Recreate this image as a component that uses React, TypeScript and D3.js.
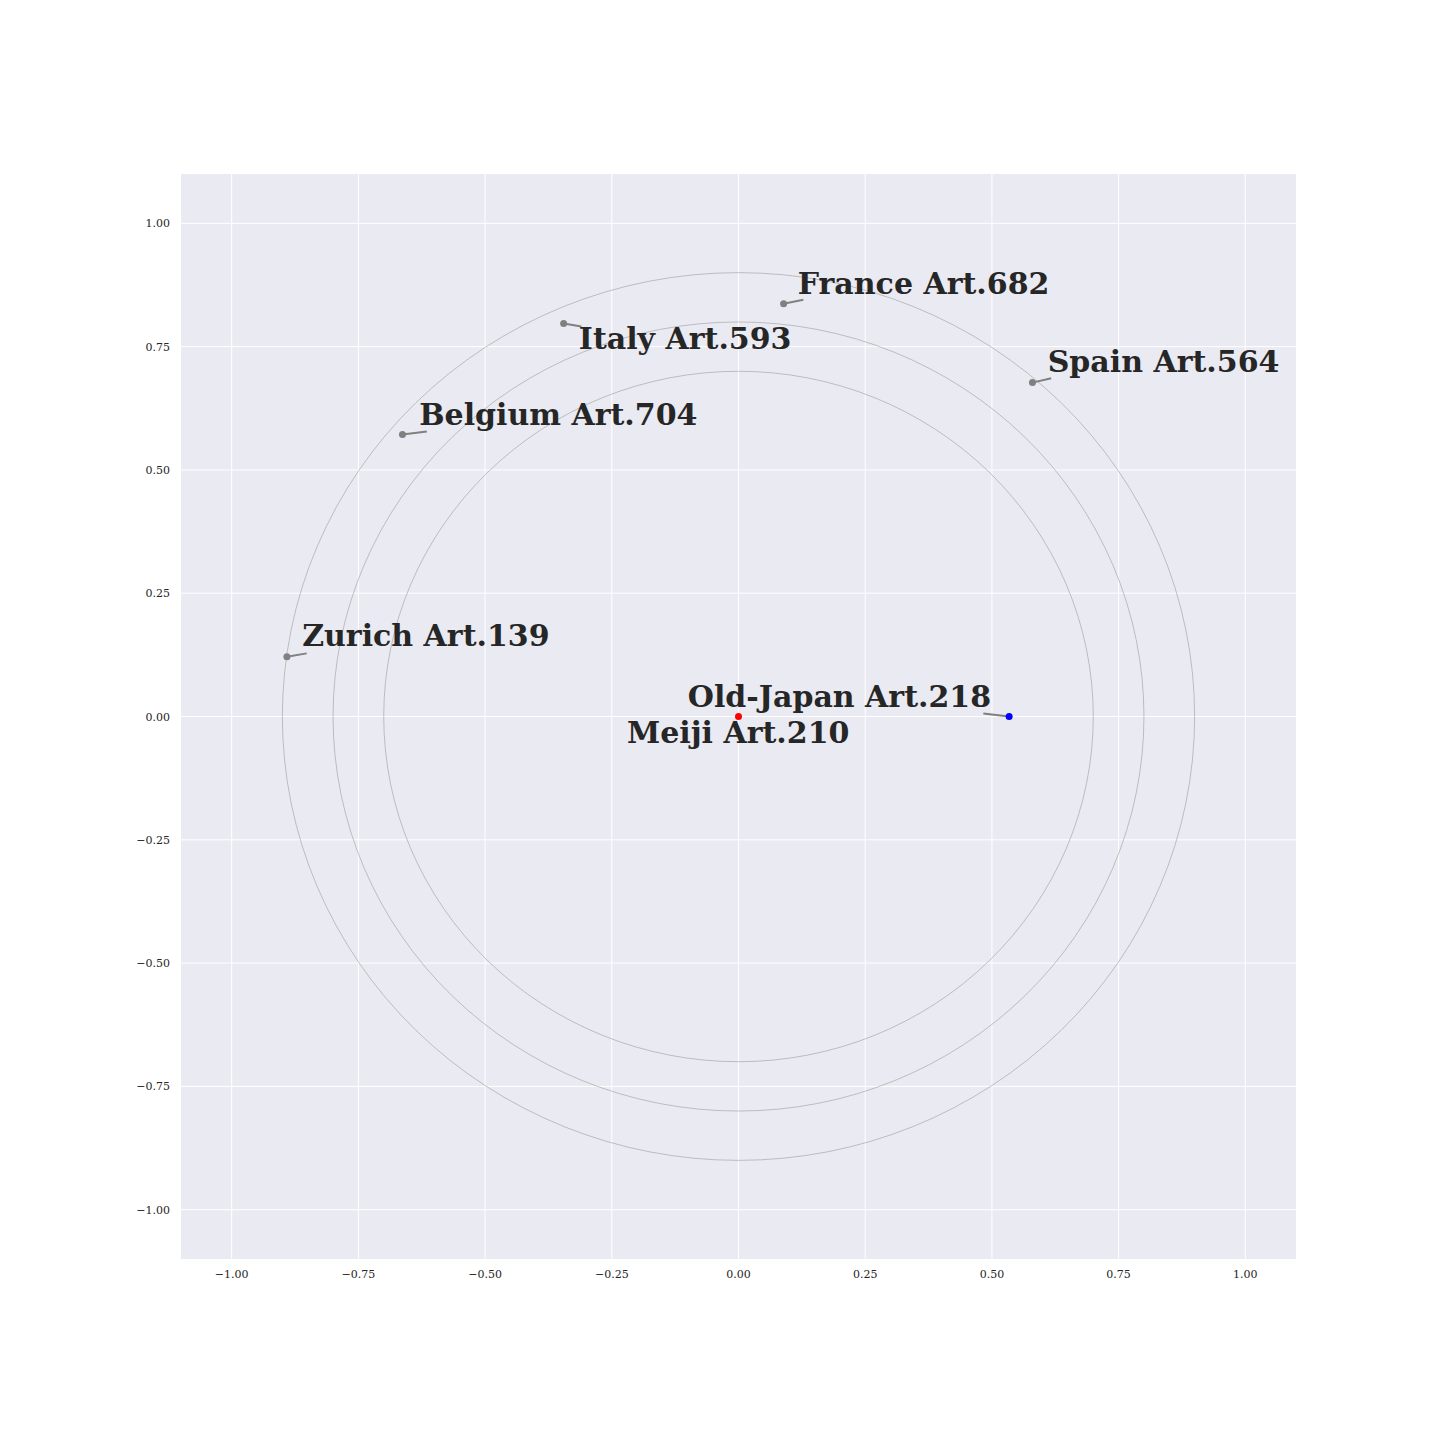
import React from "react";
import * as d3 from "d3";

const names = ["France Art.682", "Italy Art.593", "Spain Art.564", "Belgium Art.704", "Zurich Art.139", "Old-Japan Art.218", "Meiji Art.210"];
const pointX = [0.089, -0.345, 0.58, -0.663, -0.891, 0.534, 0];
const pointY = [0.837, 0.797, 0.677, 0.572, 0.121, 0, 0];
const pointColors = ["#808080", "#808080", "#808080", "#808080", "#808080", "blue", "red"];
const labelX = [0.117, -0.315, 0.61, -0.63, -0.861, -0.1, -0.22];
const labelY = [0.857, 0.746, 0.698, 0.592, 0.142, 0.02, -0.053];
const arrowEndX = [0.128, -0.31, 0.617, -0.615, -0.852, 0.483, 0];
const arrowEndY = [0.845, 0.791, 0.686, 0.578, 0.128, 0.006, 0];
const hasArrow = [true, true, true, true, true, true, false];
const radii = [0.7, 0.8, 0.9];
const ticks = [-1, -0.75, -0.5, -0.25, 0, 0.25, 0.5, 0.75, 1];

const W = 1440, H = 1440;
const left = 181, right = 1296, top = 174, bottom = 1259;

export default function App() {
  const x = d3.scaleLinear().domain([-1.1, 1.1]).range([left, right]);
  const y = d3.scaleLinear().domain([-1.1, 1.1]).range([bottom, top]);
  const fmt = (v: number) => d3.format(".2f")(v).replace("-", "\u2212");
  const tickFont = "'DejaVu Serif', serif";
  return (
    <svg width={W} height={H} style={{ position: "absolute", left: 0, top: 0 }}>
      <rect x={0} y={0} width={W} height={H} fill="white" />
      <defs>
        <clipPath id="plotclip">
          <rect x={left} y={top} width={right - left} height={bottom - top} />
        </clipPath>
      </defs>
      <rect x={left} y={top} width={right - left} height={bottom - top} fill="#EAEAF2" />
      {ticks.map((t) => (
        <g key={"g" + t}>
          <line x1={x(t)} x2={x(t)} y1={top} y2={bottom} stroke="white" strokeWidth={1} />
          <line x1={left} x2={right} y1={y(t)} y2={y(t)} stroke="white" strokeWidth={1} />
        </g>
      ))}
      {ticks.map((t) => (
        <text key={"xt" + t} x={x(t)} y={bottom + 19} textAnchor="middle" fontFamily={tickFont} fontSize={11} fill="#262626">
          {fmt(t)}
        </text>
      ))}
      {ticks.map((t) => (
        <text key={"yt" + t} x={left - 11} y={y(t) + 4} textAnchor="end" fontFamily={tickFont} fontSize={11} fill="#262626">
          {fmt(t)}
        </text>
      ))}
      <g clipPath="url(#plotclip)">
        {radii.map((r) => (
          <ellipse key={"c" + r} cx={x(0)} cy={y(0)} rx={x(r) - x(0)} ry={y(0) - y(r)} fill="none" stroke="#8c8c8c" strokeWidth={0.5} />
        ))}
        {names.map((n, i) =>
          hasArrow[i] ? (
            <line key={"a" + i} x1={x(pointX[i])} y1={y(pointY[i])} x2={x(arrowEndX[i])} y2={y(arrowEndY[i])} stroke="#808080" strokeWidth={2} />
          ) : null
        )}
        {names.map((n, i) => (
          <circle key={"p" + i} cx={x(pointX[i])} cy={y(pointY[i])} r={3.5} fill={pointColors[i]} />
        ))}
      </g>
      {names.map((n, i) => (
        <text key={"l" + i} x={x(labelX[i])} y={y(labelY[i])} fontFamily="'DejaVu Serif', serif" fontWeight="bold" fontSize={30} fill="#262626">
          {n}
        </text>
      ))}
    </svg>
  );
}
